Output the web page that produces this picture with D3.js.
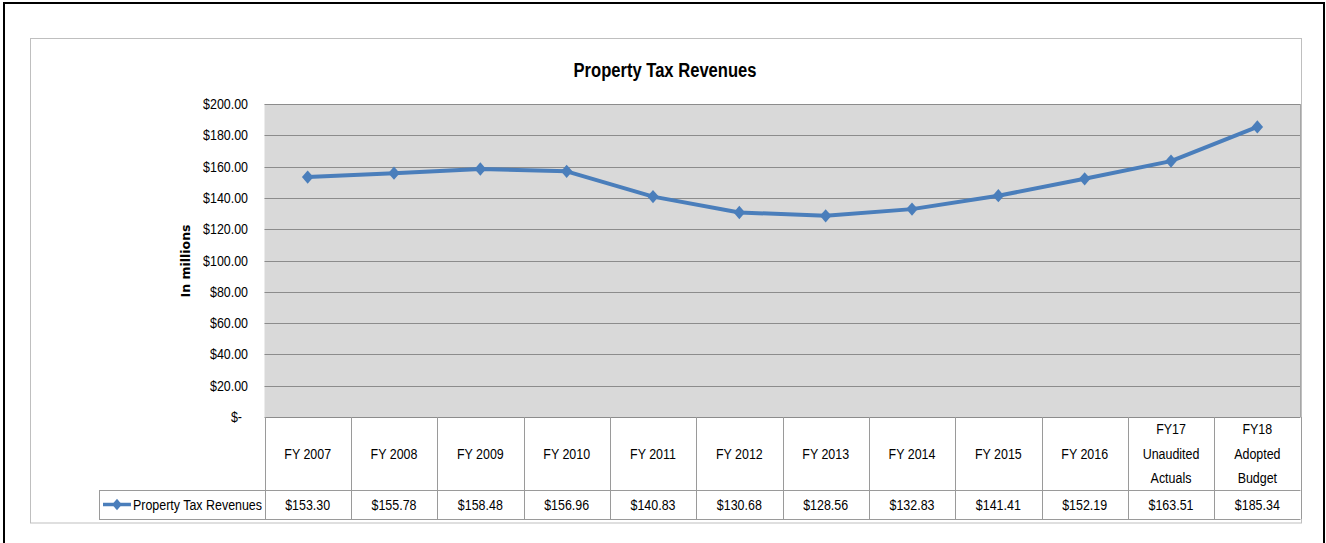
<!DOCTYPE html>
<html>
<head>
<meta charset="utf-8">
<script src="https://cdn.jsdelivr.net/npm/d3@7"></script>
<style>
  body { margin: 0; background: #fff; }
  text { font-family: "Liberation Sans", Arial, sans-serif; fill: #000; }
</style>
</head>
<body>
<div class="canvas"></div>
<script>
// data
var categories = [["FY 2007"], ["FY 2008"], ["FY 2009"], ["FY 2010"], ["FY 2011"], ["FY 2012"],
                  ["FY 2013"], ["FY 2014"], ["FY 2015"], ["FY 2016"],
                  ["FY17", "Unaudited", "Actuals"], ["FY18", "Adopted", "Budget"]]
var revenues = [153.30, 155.78, 158.48, 156.96, 140.83, 130.68, 128.56, 132.83, 141.41, 152.19, 163.51, 185.34]
var yTicks = [0, 20, 40, 60, 80, 100, 120, 140, 160, 180, 200]
var seriesName = "Property Tax Revenues"
var title = "Property Tax Revenues"

var W = 1326, H = 543
var plot = {left: 264.5, right: 1300.5, top: 104, bottom: 417}
var tableTop = 417, rowSplit = 490, tableBottom = 519, legendLeft = 99
var lineColor = "#4a7ebb", gridColor = "#8c8c8c", tableColor = "#9a9a9a"
var squeeze = 0.83   // narrow the font, the original uses a condensed face

var svg = d3.select(".canvas").append("svg").attr("width", W).attr("height", H)

// writes a horizontally squeezed label
function label(parent, tx, ty, str, anchor, size, weight, sq) {
    var g = parent.append("g").attr("transform", "translate(" + tx + "," + ty + ") scale(" + (sq || squeeze) + ",1)")
    return g.append("text")
        .attr("text-anchor", anchor)
        .attr("font-size", size)
        .attr("font-weight", weight || "normal")
        .text(str)
}

// outer black frame
svg.append("rect")
    .attr("x", 4).attr("y", 3).attr("width", 1320).attr("height", 560)
    .attr("fill", "none").attr("stroke", "#000").attr("stroke-width", 2)

// chart area border
svg.append("rect")
    .attr("x", 30.5).attr("y", 38.5).attr("width", 1271).attr("height", 484.5)
    .attr("fill", "#fff").attr("stroke", "#bfbfbf").attr("stroke-width", 1)

var x = d3.scaleBand().domain(d3.range(categories.length)).range([plot.left, plot.right])
var y = d3.scaleLinear().domain([0, 200]).range([plot.bottom, plot.top])

// plot background
svg.append("rect")
    .attr("x", plot.left).attr("y", plot.top)
    .attr("width", plot.right - plot.left).attr("height", plot.bottom - plot.top)
    .attr("fill", "#d9d9d9")

// gridlines
svg.append("g").selectAll("line").data(yTicks).join("line")
    .attr("x1", plot.left).attr("x2", plot.right)
    .attr("y1", d => Math.round(y(d)) + 0.5).attr("y2", d => Math.round(y(d)) + 0.5)
    .attr("stroke", gridColor).attr("stroke-width", 1)

svg.append("line")
    .attr("x1", plot.right).attr("x2", plot.right).attr("y1", plot.top).attr("y2", plot.bottom)
    .attr("stroke", "#a6a6a6")

// y tick labels
var yl = svg.append("g")
yTicks.forEach(function(d) {
    label(yl, d === 0 ? 242 : 248, y(d) + 5, d === 0 ? "$-" : "$" + d.toFixed(2), "end", 15)
})

// y axis title
svg.append("text")
    .attr("transform", "translate(190," + 261 + ") rotate(-90)")
    .attr("text-anchor", "middle")
    .style("font-family", "'DejaVu Sans', Verdana, sans-serif")
    .attr("font-weight", "bold")
    .attr("font-size", 12.5)
    .text("In millions")

// title
label(svg, 665, 77, title, "middle", 21, "bold", 0.79)

// data table
var tg = svg.append("g").attr("stroke", tableColor).attr("stroke-width", 1).attr("fill", "none")
var bounds = d3.range(categories.length + 1).map(i => i < categories.length ? x(i) : plot.right)
tg.selectAll("line.col").data(bounds).join("line")
    .attr("class", "col")
    .attr("x1", d => Math.round(d) + 0.5).attr("x2", d => Math.round(d) + 0.5)
    .attr("y1", tableTop).attr("y2", tableBottom)
tg.append("line").attr("x1", legendLeft).attr("x2", plot.right).attr("y1", rowSplit + 0.5).attr("y2", rowSplit + 0.5)
tg.append("line").attr("x1", legendLeft).attr("x2", plot.right).attr("y1", tableBottom + 0.5).attr("y2", tableBottom + 0.5)
tg.append("line").attr("x1", legendLeft + 0.5).attr("x2", legendLeft + 0.5).attr("y1", rowSplit).attr("y2", tableBottom)

// header labels
var hg = svg.append("g")
categories.forEach(function(lines, i) {
    var cx = x(i) + x.bandwidth() / 2
    var mid = (tableTop + rowSplit) / 2 + 5
    var step = 24.5
    lines.forEach(function(s, k) {
        label(hg, cx, mid + (k - (lines.length - 1) / 2) * step, s, "middle", 15)
    })
})

// value labels
var vg = svg.append("g")
revenues.forEach(function(d, i) {
    label(vg, x(i) + x.bandwidth() / 2, (rowSplit + tableBottom) / 2 + 5.5, "$" + d.toFixed(2), "middle", 15)
})

// legend key
var diamond = d3.symbol().type(d3.symbolDiamond).size(80)
var ly = (rowSplit + tableBottom) / 2
svg.append("line")
    .attr("x1", 103).attr("x2", 131).attr("y1", ly).attr("y2", ly)
    .attr("stroke", lineColor).attr("stroke-width", 3.5)
svg.append("path").attr("d", diamond).attr("transform", "translate(117," + ly + ") scale(1.0,0.7)")
    .attr("fill", lineColor)
label(svg, 133, ly + 5.5, seriesName, "start", 15)

// series line
var line = d3.line()
    .x((d, i) => x(i) + x.bandwidth() / 2)
    .y(d => y(d))
svg.append("path")
    .datum(revenues)
    .attr("d", line)
    .attr("fill", "none")
    .attr("stroke", lineColor)
    .attr("stroke-width", 4)
    .attr("stroke-linejoin", "round")

svg.append("g").selectAll("path").data(revenues).join("path")
    .attr("d", diamond)
    .attr("transform", (d, i) => "translate(" + (x(i) + x.bandwidth() / 2) + "," + y(d) + ") scale(1.2,0.8)")
    .attr("fill", lineColor)
</script>
</body>
</html>
